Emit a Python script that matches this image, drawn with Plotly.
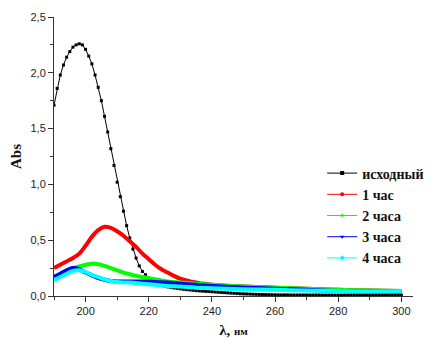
import plotly.graph_objects as go

# ---- data ----
wl_black = list(range(190, 301))
abs_black = [1.71, 1.86, 1.98, 2.07, 2.14, 2.19, 2.23, 2.25, 2.26, 2.25,
             2.21, 2.15, 2.08, 1.98, 1.87, 1.75, 1.61, 1.47, 1.32, 1.17,
             1.02, 0.89, 0.76, 0.63, 0.52, 0.42, 0.34, 0.27, 0.22, 0.19,
             0.16, 0.13, 0.115, 0.105, 0.095, 0.088, 0.082, 0.077, 0.072, 0.068,
             0.064, 0.060, 0.057, 0.054, 0.051, 0.048, 0.046, 0.044, 0.042, 0.040,
             0.038, 0.036, 0.034, 0.032, 0.030, 0.028, 0.026, 0.024, 0.022, 0.020,
             0.019, 0.018, 0.017, 0.016, 0.015, 0.014, 0.013, 0.012, 0.012, 0.011,
             0.011, 0.010, 0.010, 0.010, 0.010, 0.009, 0.009, 0.009, 0.009, 0.009,
             0.009, 0.009, 0.009, 0.009, 0.009, 0.008, 0.008, 0.008, 0.008, 0.008,
             0.008, 0.008, 0.008, 0.008, 0.008, 0.008, 0.008, 0.008, 0.008, 0.008,
             0.008, 0.008, 0.008, 0.008, 0.008, 0.008, 0.008, 0.008, 0.008, 0.008,
             0.008]

wl_red = [190, 192, 194, 196, 198, 200, 202, 204, 206, 208, 210, 212, 214, 216, 218,
          220, 222, 224, 226, 228, 230, 232, 234, 236, 238, 240, 245, 250, 260, 270,
          280, 290, 300]
abs_red = [0.25, 0.28, 0.31, 0.34, 0.38, 0.45, 0.53, 0.59, 0.62, 0.61, 0.58, 0.54,
           0.49, 0.44, 0.38, 0.33, 0.28, 0.24, 0.21, 0.18, 0.155, 0.14, 0.125, 0.115,
           0.11, 0.10, 0.09, 0.085, 0.075, 0.065, 0.055, 0.05, 0.045]

wl_green = [190, 192, 194, 196, 198, 200, 202, 204, 206, 208, 210, 212, 214, 216, 218,
            220, 222, 224, 226, 228, 230, 235, 240, 250, 260, 270, 280, 290, 300]
abs_green = [0.17, 0.20, 0.23, 0.25, 0.265, 0.28, 0.29, 0.285, 0.27, 0.25, 0.23, 0.21,
             0.195, 0.18, 0.17, 0.16, 0.15, 0.14, 0.13, 0.125, 0.12, 0.11, 0.10, 0.085,
             0.075, 0.065, 0.055, 0.05, 0.045]

wl_blue = [190, 192, 194, 196, 198, 200, 202, 204, 206, 208, 210, 214, 218, 222, 226,
           230, 235, 240, 250, 260, 270, 280, 290, 300]
abs_blue = [0.17, 0.20, 0.23, 0.25, 0.24, 0.21, 0.185, 0.16, 0.145, 0.135, 0.13, 0.13,
            0.13, 0.125, 0.12, 0.11, 0.10, 0.09, 0.075, 0.065, 0.055, 0.045, 0.04, 0.035]

wl_cyan = [190, 192, 194, 196, 198, 200, 202, 204, 206, 208, 210, 214, 218, 222, 226,
           230, 235, 240, 250, 260, 270, 280, 290, 300]
abs_cyan = [0.14, 0.17, 0.20, 0.225, 0.23, 0.215, 0.19, 0.17, 0.15, 0.135, 0.125, 0.12,
            0.11, 0.10, 0.09, 0.085, 0.075, 0.07, 0.06, 0.055, 0.05, 0.045, 0.04, 0.04]

names = ["исходный", "1 час", "2 часа", "3 часа", "4 часа"]
colors = ["#000000", "#ff0000", "#00ff00", "#0000ff", "#00ffff"]
symbols = ["square", "circle", "triangle-up", "triangle-down", "diamond"]

fig = go.Figure()

fig.add_trace(go.Scatter(x=wl_black, y=abs_black, mode="lines+markers",
                         line=dict(color=colors[0], width=1),
                         marker=dict(symbol="square", size=3, color=colors[0]),
                         showlegend=False))
series = [(wl_red, abs_red), (wl_green, abs_green), (wl_blue, abs_blue), (wl_cyan, abs_cyan)]
for i, (xs, ys) in enumerate(series, start=1):
    fig.add_trace(go.Scatter(x=xs, y=ys, mode="lines", line_shape="spline",
                             line=dict(color=colors[i], width=4), showlegend=False))

for i in range(5):
    fig.add_trace(go.Scatter(x=[None], y=[None], mode="lines+markers",
                             name="<b>" + names[i] + "</b>",
                             line=dict(color=colors[i], width=1),
                             marker=dict(symbol=symbols[i], size=4, color=colors[i])))

fig.update_layout(
    width=432, height=341,
    margin=dict(l=54, r=19, t=17, b=45, autoexpand=False),
    paper_bgcolor="white", plot_bgcolor="white",
    separators=", ",
    font=dict(family="Liberation Sans, Arial", size=11, color="#222"),
    legend=dict(x=0.747, y=0.2885, xanchor="left", yanchor="middle",
                font=dict(family="Liberation Serif, Times New Roman", size=14, color="#111"),
                bgcolor="rgba(0,0,0,0)", itemwidth=30, tracegroupgap=0),
)
fig.update_xaxes(range=[190, 303.7], showline=True, linecolor="#333", linewidth=1,
                 showgrid=False, zeroline=False, ticks="outside", ticklen=5, tickcolor="#333",
                 tickvals=[200, 220, 240, 260, 280, 300], automargin=False,
                 minor=dict(ticks="outside", ticklen=3, dtick=10, tick0=190, tickcolor="#333"),
                 title=dict(text="<b>λ, <span style='font-size:11px'>нм</span></b>",
                            font=dict(family="Liberation Serif, Times New Roman", size=15, color="#111"),
                            standoff=8))
fig.update_yaxes(range=[0, 2.5], showline=True, linecolor="#333", linewidth=1,
                 showgrid=False, zeroline=False, ticks="outside", ticklen=5, tickcolor="#333",
                 tickvals=[0, 0.5, 1.0, 1.5, 2.0, 2.5], tickformat=".1f", automargin=False,
                 minor=dict(ticks="outside", ticklen=3, dtick=0.25, tickcolor="#333"),
                 title=dict(text="<b>Abs</b>",
                            font=dict(family="Liberation Serif, Times New Roman", size=15, color="#111"),
                            standoff=5))

fig.write_html("out.html")
